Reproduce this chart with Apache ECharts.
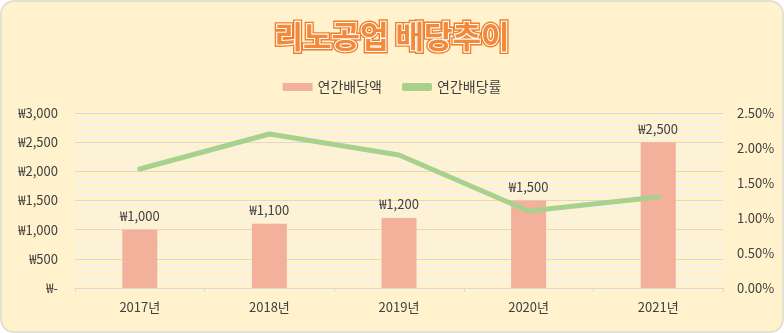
<!DOCTYPE html>
<html>
<head>
<meta charset="utf-8">
<script src="https://cdn.jsdelivr.net/npm/echarts@6/dist/echarts.min.js"></script>
<style>
  html, body { margin: 0; padding: 0; background: #ffffff; }
  #frame {
    position: absolute; left: 0; top: 0;
    width: 780px; height: 329px;
    background: #FFF2CC;
    border: 2px solid #E3E0D6;
    border-radius: 14px;
    overflow: hidden;
  }
  #chart { position: absolute; left: -2px; top: -2px; width: 784px; height: 333px; }
</style>
</head>
<body>
<div id="frame"><div id="chart"></div></div>
<script>
// 리노공업 연도별 배당 데이터
const titleText = '리노공업 배당추이';
const years = ['2017년', '2018년', '2019년', '2020년', '2021년'];
const dividendAmount = [1000, 1100, 1200, 1500, 2500];      // 연간배당액 (원)
const dividendYield = [1.7, 2.2, 1.9, 1.1, 1.3];             // 연간배당률 (%)
const amountTicks = [0, 500, 1000, 1500, 2000, 2500, 3000];
const yieldTicks = [0, 0.5, 1.0, 1.5, 2.0, 2.5];

const FONT = '"Noto Sans CJK KR", "Noto Sans", sans-serif';
const TEXT = '#404040';
const ORANGE = '#F28A3A';

function won(v) {
  if (v === 0) return '₩-';
  return '₩' + v.toLocaleString('en-US');
}

// 제목: 주황 그림자 + 주황 외곽 + 흰 테두리 + 주황 채움 (두 겹으로 그림)
function titleLayer(border, borderWidth, withShadow) {
  const style = {
    text: titleText,
    x: 392, y: 36,
    align: 'center', verticalAlign: 'middle',
    fontFamily: FONT, fontSize: 31, fontWeight: 'bold',
    fill: ORANGE,
    stroke: border, lineWidth: borderWidth
  };
  if (withShadow) {
    style.shadowColor = '#EE7A24';
    style.shadowOffsetX = 2;
    style.shadowOffsetY = 2;
    style.shadowBlur = 0;
  }
  return { type: 'text', silent: true, style };
}

const chart = echarts.init(document.getElementById('chart'), null, { renderer: 'canvas' });
chart.setOption({
  backgroundColor: 'transparent',
  animation: false,
  textStyle: { fontFamily: FONT },
  graphic: [
    titleLayer('#F07F2C', 5, true),
    titleLayer('#FFFFFF', 2.2, false)
  ],
  legend: {
    top: 75,
    left: 'center',
    itemGap: 20,
    itemWidth: 30,
    itemHeight: 8,
    textStyle: { fontFamily: FONT, fontSize: 14, color: TEXT },
    data: [
      { name: '연간배당액', icon: 'rect' },
      { name: '연간배당률', icon: 'roundRect', itemStyle: { color: '#A9D18E' } }
    ]
  },
  grid: { left: 75, right: 61, top: 113, bottom: 45 },
  xAxis: {
    type: 'category',
    data: years,
    axisLine: { lineStyle: { color: '#D9D9D9', width: 1 } },
    axisTick: { show: true, length: 4, lineStyle: { color: '#D9D9D9' } },
    axisLabel: { fontFamily: FONT, fontSize: 13, color: TEXT, margin: 13 }
  },
  yAxis: [
    {
      type: 'value',
      min: amountTicks[0],
      max: amountTicks[amountTicks.length - 1],
      interval: 500,
      axisLine: { show: false },
      axisTick: { show: false },
      axisLabel: {
        fontFamily: FONT, fontSize: 13, color: TEXT, margin: 17,
        formatter: won
      },
      splitLine: { show: true, lineStyle: { color: '#D9D9D9', width: 1 } },
      minorTick: { show: false, splitNumber: 5 },
      minorSplitLine: { show: true, lineStyle: { color: '#F5F1E8', width: 2 } }
    },
    {
      type: 'value',
      min: yieldTicks[0],
      max: yieldTicks[yieldTicks.length - 1],
      interval: 0.5,
      axisLine: { show: false },
      axisTick: { show: false },
      splitLine: { show: false },
      axisLabel: {
        fontFamily: FONT, fontSize: 13, color: TEXT, margin: 14,
        formatter: v => v.toFixed(2) + '%'
      }
    }
  ],
  series: [
    {
      name: '연간배당액',
      type: 'bar',
      yAxisIndex: 0,
      data: dividendAmount,
      barWidth: 35,
      itemStyle: { color: '#F3B19B' },
      label: {
        show: true,
        position: 'top',
        distance: 7,
        fontFamily: FONT,
        fontSize: 13,
        color: TEXT,
        formatter: p => won(p.value)
      }
    },
    {
      name: '연간배당률',
      type: 'line',
      yAxisIndex: 1,
      data: dividendYield,
      showSymbol: false,
      symbol: 'none',
      lineStyle: { color: '#A9D18E', width: 5, cap: 'round', join: 'round' },
      itemStyle: { color: '#A9D18E' },
      z: 3
    }
  ]
});
</script>
</body>
</html>
